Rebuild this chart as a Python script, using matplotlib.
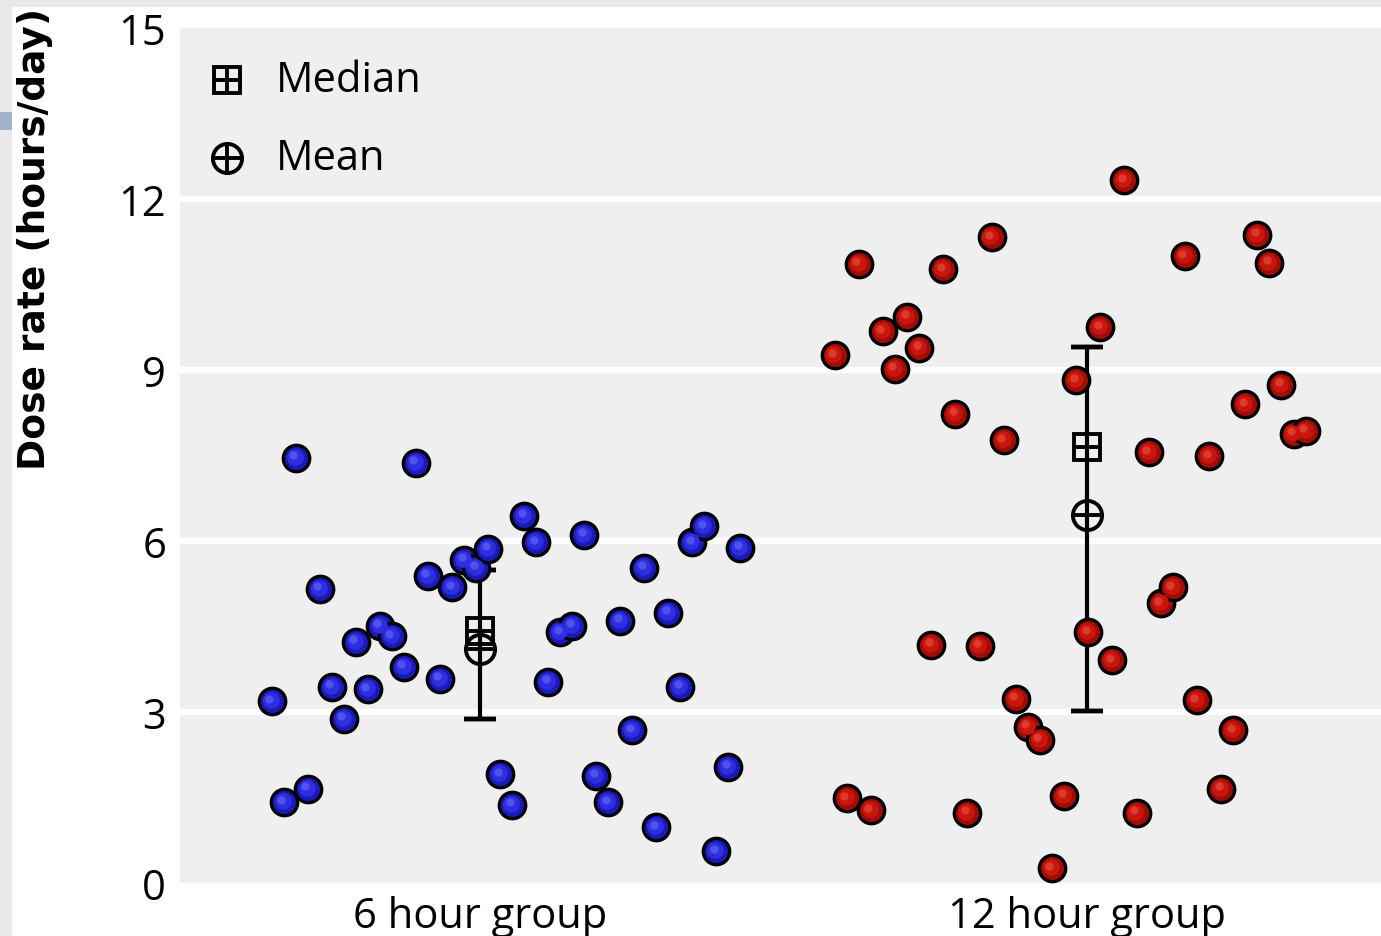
import numpy as np
import matplotlib
matplotlib.use("Agg")
import matplotlib.pyplot as plt
from matplotlib.patches import Rectangle
from matplotlib.transforms import ScaledTranslation

# ---------------- data ----------------
groups = ["6 hour group", "12 hour group"]
yticks = [0, 3, 6, 9, 12, 15]

dose_6h = [3.19, 1.42, 7.46, 1.65, 5.16, 3.44, 2.88, 4.23, 3.40, 4.51,
           4.33, 3.79, 7.37, 5.39, 3.58, 5.19, 5.67, 5.53, 5.86, 1.91,
           1.37, 6.44, 5.98, 3.53, 4.40, 4.51, 6.11, 1.88, 1.42, 4.60,
           2.68, 5.53, 0.98, 4.74, 3.44, 5.98, 6.26, 0.56, 2.04, 5.88]

dose_12h = [9.26, 1.49, 10.86, 1.28, 9.68, 9.02, 9.93, 9.39, 4.18, 10.77,
            8.23, 1.23, 4.16, 11.33, 7.77, 3.23, 2.74, 2.51, 0.26, 1.53,
            8.82, 4.40, 9.75, 3.91, 12.33, 1.23, 7.56, 4.91, 5.19, 11.00,
            3.21, 7.49, 1.65, 2.68, 8.40, 11.37, 10.88, 8.74, 7.88, 7.93]

medians = [4.42, 7.65]
means = [4.10, 6.45]
q_low = [2.88, 3.02]
q_high = [5.50, 9.40]

# horizontal spread of points (category units)
spread_6h = (-0.342, 0.429)
spread_12h = (-0.416, 0.359)

FONT = "Open Sans"

# ---------------- figure ----------------
W, H = 1381, 937
fig = plt.figure(figsize=(W / 100, H / 100), dpi=100)
fig.patch.set_facecolor("white")

# screenshot frame artifacts
fig.patches.append(Rectangle((0, 1 - 8 / H), 1, 8 / H, transform=fig.transFigure,
                             facecolor="#e9e9e9", edgecolor="none", zorder=0))
fig.patches.append(Rectangle((0, 0), 12 / W, 1, transform=fig.transFigure,
                             facecolor="#e9e9e9", edgecolor="none", zorder=0))
fig.patches.append(Rectangle((0, 1 - 131 / H), 12 / W, 18 / H, transform=fig.transFigure,
                             facecolor="#9fb3c9", edgecolor="none", zorder=0))

left, right, bottom, top = 180, 1381, 884, 29
ax = fig.add_axes([left / W, (H - bottom) / H, (right - left) / W, (bottom - top) / H])
ax.set_facecolor("#efefef")
for s in ax.spines.values():
    s.set_visible(False)

ax.set_xlim(-0.493, 1.483)
ax.set_ylim(0, 15)
ax.set_yticks(yticks)
ax.set_xticks([0, 1])
ax.set_xticklabels(groups)
ax.tick_params(length=0, labelsize=30, pad=10)
ax.tick_params(axis="x", pad=9)
for lab in ax.get_xticklabels() + ax.get_yticklabels():
    lab.set_fontfamily(FONT)
for yv in [3, 6, 9, 12]:
    ax.axhline(yv, color="white", lw=4.5, zorder=1)

fig.text(35 / W, 1 - 239 / H, "Dose rate (hours/day)", rotation=90, fontsize=27,
         fontweight="bold", fontfamily="DejaVu Sans", ha="center", va="center")

def shifted(dx, dy):
    return ax.transData + ScaledTranslation(dx / 72, dy / 72, fig.dpi_scale_trans)


def balls(xc, vals, spread, base, mid, light):
    xs = xc + np.linspace(spread[0], spread[1], len(vals))
    ax.plot(xs, vals, "o", ms=19, mfc=base, mec="black", mew=2.4, ls="none", zorder=3)
    ax.plot(xs, vals, "o", ms=12, mfc=mid, mec="none", ls="none", zorder=3,
            transform=shifted(-0.8, 0.8))
    ax.plot(xs, vals, "o", ms=6, mfc=light, mec="none", ls="none", zorder=3,
            transform=shifted(-1.8, 1.8), alpha=0.8)


balls(0, dose_6h, spread_6h, "#1a1ab8", "#2e2ee0", "#5a5af0")
balls(1, dose_12h, spread_12h, "#a00c06", "#c8160e", "#e04434")

# error bars and summary markers
for i in range(2):
    ax.plot([i, i], [q_low[i], q_high[i]], color="black", lw=3, zorder=2.5)
    ax.plot([i, i], [q_low[i], q_low[i]], marker="_", ms=23, mew=3.2, color="black", zorder=2.5)
    ax.plot([i, i], [q_high[i], q_high[i]], marker="_", ms=23, mew=3.2, color="black", zorder=2.5)
    ax.plot(i, medians[i], "s", ms=19, mfc="none", mec="black", mew=2.8, zorder=4)
    ax.plot(i, medians[i], "+", ms=19, mec="black", mew=2.8, zorder=4)
    ax.plot(i, means[i], "o", ms=21, mfc="none", mec="black", mew=2.8, zorder=4)
    ax.plot(i, means[i], "+", ms=21, mec="black", mew=2.8, zorder=4)

# legend
lx = -0.5 + (225 - left) / 608.0 + 0.01
for yv, mk, ms, label in [(14.08, "s", 19, "Median"), (12.72, "o", 21, "Mean")]:
    ax.plot(lx, yv, mk, ms=ms, mfc="none", mec="black", mew=2.8, zorder=4)
    ax.plot(lx, yv, "+", ms=ms, mec="black", mew=2.8, zorder=4)
    ax.text(lx + 0.08, yv, label, fontsize=30, fontfamily=FONT, va="center", ha="left")

fig.savefig("out.png", dpi=100)
